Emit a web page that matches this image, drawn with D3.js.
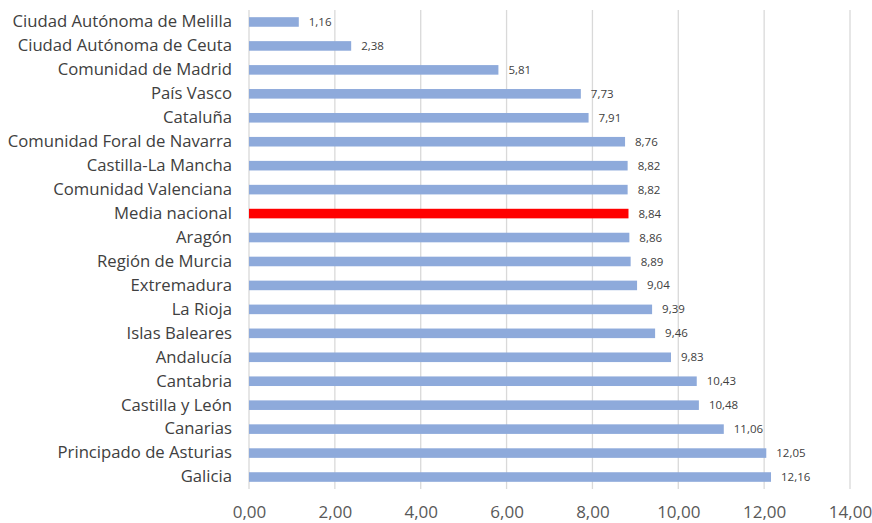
<!DOCTYPE html>
<html>
<head>
<meta charset="utf-8">
<script src="https://cdn.jsdelivr.net/npm/d3@7"></script>
<style>
  html, body { margin: 0; padding: 0; background: #fff; }
  svg { display: block; }
  text { font-family: "Open Sans", "Liberation Sans", sans-serif; }
</style>
</head>
<body>
<svg id="chart" width="872" height="523"></svg>
<script>
// Regions, top to bottom
const regions = [
  "Ciudad Autónoma de Melilla",
  "Ciudad Autónoma de Ceuta",
  "Comunidad de Madrid",
  "País Vasco",
  "Cataluña",
  "Comunidad Foral de Navarra",
  "Castilla-La Mancha",
  "Comunidad Valenciana",
  "Media nacional",
  "Aragón",
  "Región de Murcia",
  "Extremadura",
  "La Rioja",
  "Islas Baleares",
  "Andalucía",
  "Cantabria",
  "Castilla y León",
  "Canarias",
  "Principado de Asturias",
  "Galicia"
];
const values = [1.16, 2.38, 5.81, 7.73, 7.91, 8.76, 8.82, 8.82, 8.84, 8.86,
                8.89, 9.04, 9.39, 9.46, 9.83, 10.43, 10.48, 11.06, 12.05, 12.16];
const xTicks = [0, 2, 4, 6, 8, 10, 12, 14];
const highlight = "Media nacional";

const data = regions.map((r, i) => ({ region: r, value: values[i] }));
const fmt = v => d3.format(".2f")(v).replace(".", ",");

const svg = d3.select("#chart");
const x = d3.scaleLinear().domain([0, 14]).range([249, 850]);
const y = d3.scaleBand().domain(regions).range([10, 489]).paddingInner(0.6).paddingOuter(0.3);

// vertical gridlines
svg.append("g")
  .selectAll("line")
  .data(xTicks)
  .join("line")
  .attr("x1", d => x(d)).attr("x2", d => x(d))
  .attr("y1", 10).attr("y2", 489)
  .attr("stroke", "#d9d9d9").attr("stroke-width", 1.3);

// bars
svg.append("g")
  .selectAll("rect")
  .data(data)
  .join("rect")
  .attr("x", x(0))
  .attr("y", d => y(d.region))
  .attr("width", d => x(d.value) - x(0))
  .attr("height", y.bandwidth())
  .attr("fill", d => d.region === highlight ? "#ff0000" : "#8eaadb");

// value labels
svg.append("g")
  .selectAll("text")
  .data(data)
  .join("text")
  .attr("x", d => x(d.value) + 10)
  .attr("y", d => y(d.region) + y.bandwidth() / 2)
  .attr("dy", "0.35em")
  .attr("font-size", 11.5)
  .attr("fill", "#404040")
  .text(d => fmt(d.value));

// category axis
const yAxis = d3.axisLeft(y).tickSize(0).tickPadding(0);
svg.append("g")
  .attr("transform", "translate(232,0)")
  .call(yAxis)
  .call(g => g.select(".domain").remove())
  .call(g => g.selectAll("text")
    .attr("font-size", 16.7)
    .attr("font-family", "'Open Sans', sans-serif")
    .attr("fill", "#404040"));

// value axis
const xAxis = d3.axisBottom(x).tickValues(xTicks).tickFormat(fmt).tickSize(0).tickPadding(0);
svg.append("g")
  .attr("transform", "translate(0,506)")
  .call(xAxis)
  .call(g => g.select(".domain").remove())
  .call(g => g.selectAll("text")
    .attr("font-size", 17)
    .attr("font-family", "'Open Sans', sans-serif")
    .attr("fill", "#595959"));
</script>
</body>
</html>
